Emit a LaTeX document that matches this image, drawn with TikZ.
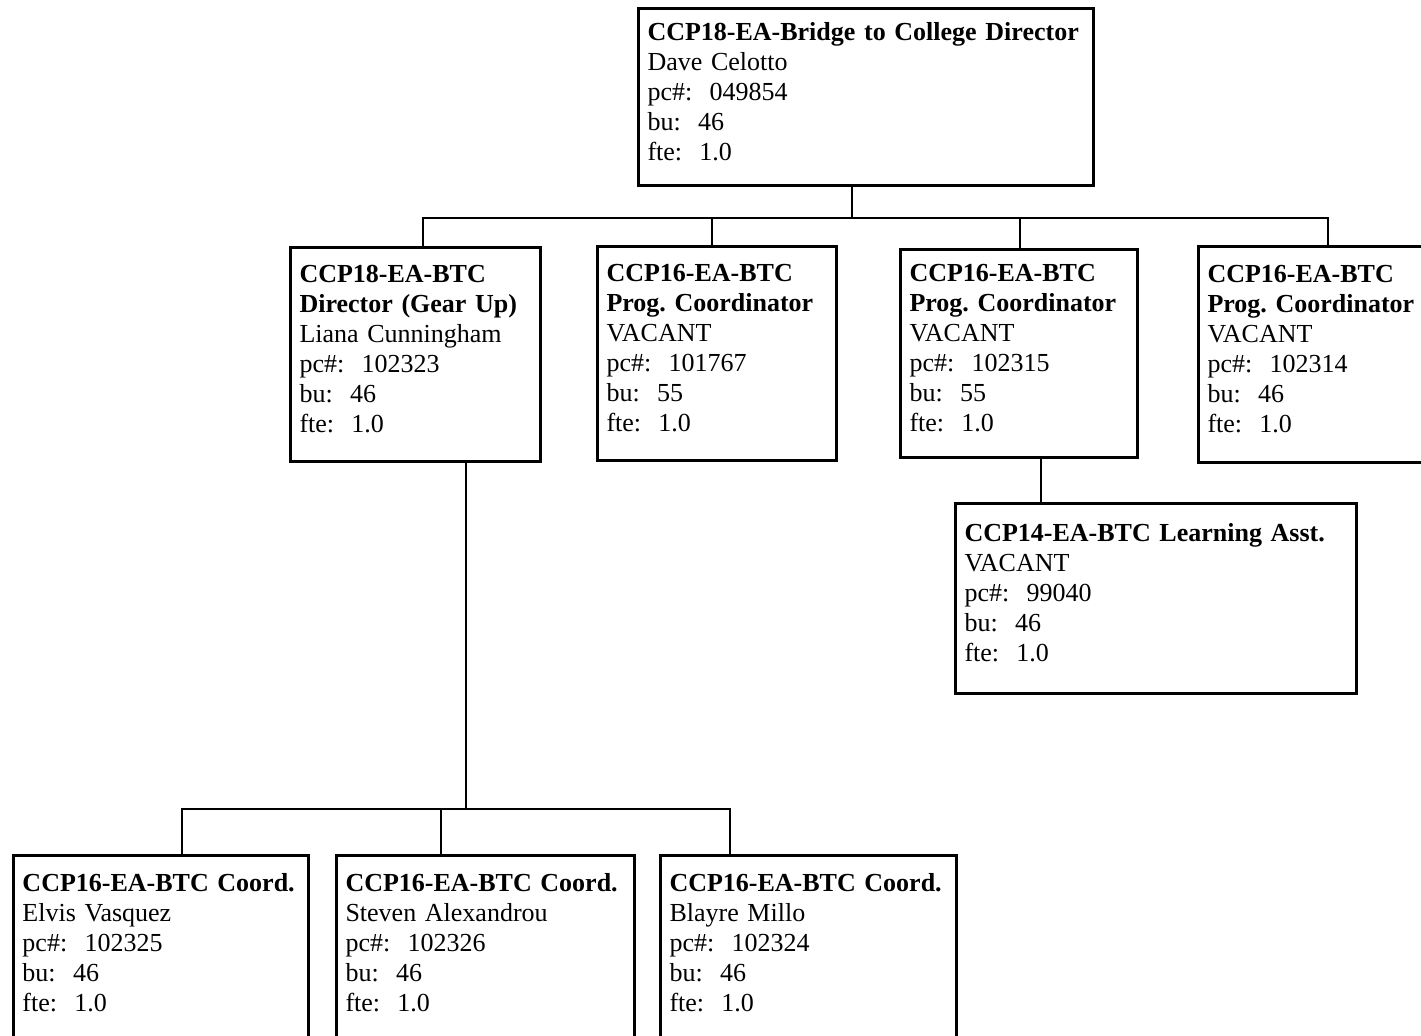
\documentclass[tikz,border=0pt]{standalone}
\usepackage{fontspec}
\setmainfont{Liberation Serif}
\usepackage{tikz}
\newcommand{\lowpad}{\rule[-6pt]{0pt}{0pt}}
\tikzset{
  posbox/.style 2 args={draw,line width=1.5pt,anchor=north west,align=left,
    inner xsep=4.5pt,inner ysep=0pt,text width=#1,minimum height=#2,
    font=\fontsize{13}{15}\selectfont\frenchspacing},
  link/.style={line width=0.8pt}
}
\begin{document}
\begin{tikzpicture}[x=0.5pt,y=-0.5pt]
     \useasboundingbox (0,0) rectangle (1421,1035);
     \node[posbox={218.5pt}{88.5pt}] (top) at (637,7)
        {\textbf{CCP18-EA-Bridge to College Director}\\ Dave Celotto\\ pc\#:~ 049854\\ bu:~ 46\\ fte:~ 1.0\lowpad};
     \node[posbox={116pt}{107pt}] (gearup) at (289,246)
        {\textbf{CCP18-EA-BTC}\\ \textbf{Director (Gear Up)}\\ Liana Cunningham\\ pc\#:~ 102323\\ bu:~ 46\\ fte:~ 1.0\lowpad};
     \node[posbox={110.5pt}{107pt}] (progA) at (596,245)
        {\textbf{CCP16-EA-BTC}\\ \textbf{Prog. Coordinator}\\ VACANT\\ pc\#:~ 101767\\ bu:~ 55\\ fte:~ 1.0\lowpad};
     \node[posbox={109.5pt}{104pt}] (progB) at (899,248)
        {\textbf{CCP16-EA-BTC}\\ \textbf{Prog. Coordinator}\\ VACANT\\ pc\#:~ 102315\\ bu:~ 55\\ fte:~ 1.0\lowpad};
     \node[posbox={111pt}{108pt}] (progC) at (1197,245)
        {\textbf{CCP16-EA-BTC}\\ \textbf{Prog. Coordinator}\\ VACANT\\ pc\#:~ 102314\\ bu:~ 46\\ fte:~ 1.0\lowpad};
     \node[posbox={191.5pt}{95pt}] (asst) at (954,502)
        {\textbf{CCP14-EA-BTC Learning Asst.}\\ VACANT\\ pc\#:~ 99040\\ bu:~ 46\\ fte:~ 1.0\lowpad};
     \node[posbox={138.5pt}{93pt}] (coordA) at (12,854)
        {\textbf{CCP16-EA-BTC Coord.}\\ Elvis Vasquez\\ pc\#:~ 102325\\ bu:~ 46\\ fte:~ 1.0\lowpad};
     \node[posbox={140pt}{93pt}] (coordB) at (335,854)
        {\textbf{CCP16-EA-BTC Coord.}\\ Steven Alexandrou\\ pc\#:~ 102326\\ bu:~ 46\\ fte:~ 1.0\lowpad};
     \node[posbox={139pt}{93pt}] (coordC) at (659,854)
        {\textbf{CCP16-EA-BTC Coord.}\\ Blayre Millo\\ pc\#:~ 102324\\ bu:~ 46\\ fte:~ 1.0\lowpad};
     \coordinate (hub) at (852,218);
     \coordinate (dropA) at (423,218);
     \coordinate (dropB) at (712,218);
     \coordinate (dropC) at (1020,218);
     \coordinate (dropD) at (1328,218);
     \coordinate (lowhub) at (466,809);
     \coordinate (lowA) at (182,809);
     \coordinate (lowB) at (441,809);
     \coordinate (lowC) at (730,809);
     \draw[link] (top.south -| hub) -- (hub);
     \draw[link] (gearup.north -| dropA) -- (dropA) -- (dropD) -- (progC.north -| dropD);
     \draw[link] (progA.north -| dropB) -- (dropB);
     \draw[link] (progB.north -| dropC) -- (dropC);
     \draw[link] (progB.south -| 1041,0) -- (asst.north -| 1041,0);
     \draw[link] (gearup.south -| lowhub) -- (lowhub);
     \draw[link] (coordA.north -| lowA) -- (lowA) -- (lowC) -- (coordC.north -| lowC);
     \draw[link] (coordB.north -| lowB) -- (lowB);
    \end{tikzpicture}
\end{document}
